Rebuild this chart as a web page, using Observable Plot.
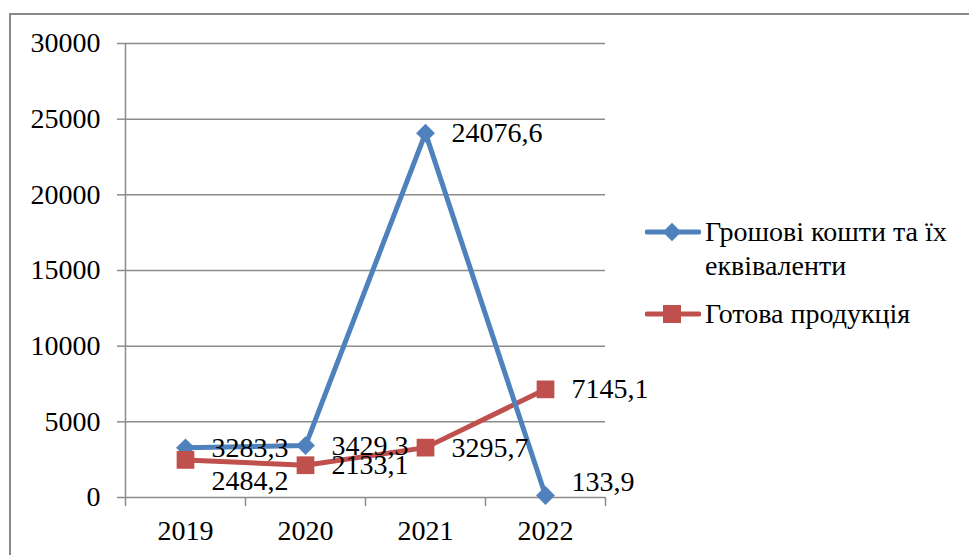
<!DOCTYPE html>
<html>
<head>
<meta charset="utf-8">
<script src="https://cdn.jsdelivr.net/npm/d3@7"></script>
<script src="https://cdn.jsdelivr.net/npm/@observablehq/plot@0.6"></script>
<style>
  body { margin: 0; background: #fff; }
  #chart {
    position: relative; width: 969px; height: 555px; overflow: hidden;
    font-family: "Liberation Serif", "Times New Roman", Tinos, "DejaVu Serif", serif; color: #000;
  }
  #frame {
    position: absolute; left: 9px; top: 13px; width: 2000px; height: 541px;
    border-top: 2px solid #8a8a8a; border-left: 2px solid #8a8a8a;
  }
  #plot { position: absolute; left: 0; top: 0; }
  #legend { position: absolute; left: 645px; top: 0; }
  .item { position: absolute; left: 0; display: flex; align-items: flex-start; }
  .item svg { flex: none; }
  .item span { font-size: 28px; line-height: 34px; width: 262px; display: block; margin-left: 4px; }
</style>
</head>
<body>
<div id="chart">
  <div id="frame"></div>
  <div id="plot"></div>
  <div id="legend"></div>
</div>
<script>
// Years on the category axis
const years = [2019, 2020, 2021, 2022];
// Series values
const cash = [3283.3, 3429.3, 24076.6, 133.9];
const goods = [2484.2, 2133.1, 3295.7, 7145.1];
const seriesNames = ["Грошові кошти та їх еквіваленти", "Готова продукція"];
const seriesColors = ["#4F81BD", "#C0504D"];
// Value axis ticks
const yTicks = [0, 5000, 10000, 15000, 20000, 25000, 30000];

const cashRows = years.map((year, i) => ({year, value: cash[i], series: seriesNames[0]}));
const goodsRows = years.map((year, i) => ({year, value: goods[i], series: seriesNames[1]}));
// Category boundaries: tick marks sit between the years
const edges = [...years.map(y => y - 0.5), years[years.length - 1] + 0.5];

const fmt = v => v.toFixed(1).replace(".", ",");
const gridColor = "#8c8c8c";
const font = "'Liberation Serif', 'Times New Roman', Tinos, 'DejaVu Serif', serif";

const labelMark = (rows, options = {}) => Plot.text(rows, {
  x: "year", y: "value", text: d => fmt(d.value),
  textAnchor: "start", dx: 26, fontSize: 28, fill: "#000", ...options
});

const chart = Plot.plot({
  width: 969, height: 555,
  marginLeft: 125, marginRight: 364, marginTop: 43, marginBottom: 58,
  style: {fontFamily: font, fontSize: "28px", color: "#000", background: "transparent", overflow: "visible"},
  x: {domain: [edges[0], edges[edges.length - 1]], axis: null, label: null},
  y: {domain: [0, 30000], axis: null, label: null},
  marks: [
    // horizontal gridlines
    Plot.ruleY(yTicks, {stroke: gridColor, strokeWidth: 1.5}),
    // value axis with outward ticks
    Plot.axisY({ticks: yTicks, tickSize: 8, tickPadding: 17, tickFormat: d3.format("d"),
      stroke: gridColor, strokeWidth: 1.5, fill: "#000", fontSize: 28, label: null}),
    Plot.ruleX([edges[0]], {stroke: gridColor, strokeWidth: 1.5}),
    // category axis: ticks between categories, labels at their centres
    Plot.axisX({ticks: edges, tickSize: 9, tickFormat: () => "", stroke: gridColor, strokeWidth: 1.5, label: null}),
    Plot.axisX({ticks: years, tickSize: 0, tickPadding: 23, tickFormat: d => String(d), fill: "#000", fontSize: 28, label: null}),
    // series lines
    Plot.line(goodsRows, {x: "year", y: "value", stroke: seriesColors[1], strokeWidth: 5}),
    Plot.line(cashRows, {x: "year", y: "value", stroke: seriesColors[0], strokeWidth: 5}),
    // markers
    Plot.dot(cashRows, {x: "year", y: "value", symbol: "diamond2", r: 8.5, fill: seriesColors[0], stroke: null}),
    Plot.dot(goodsRows, {x: "year", y: "value", symbol: "square", r: 10, fill: seriesColors[1], stroke: null}),
    // value labels
    labelMark(cashRows, {filter: d => d.year !== 2022}),
    labelMark(cashRows, {filter: d => d.year === 2022, dy: -13}),
    labelMark(goodsRows, {filter: d => d.year !== 2019}),
    labelMark(goodsRows, {filter: d => d.year === 2019, dy: 21})
  ]
});
document.getElementById("plot").appendChild(chart);

// Legend to the right of the plot
const legend = document.getElementById("legend");
const itemTops = [215, 297];
seriesNames.forEach((name, i) => {
  const item = document.createElement("div");
  item.className = "item";
  item.style.top = itemTops[i] + "px";
  const marker = i === 0
    ? `<rect x="20.5" y="10.5" width="13" height="13" transform="rotate(45 27 17)" fill="${seriesColors[i]}"/>`
    : `<rect x="18" y="8" width="18" height="18" fill="${seriesColors[i]}"/>`;
  item.innerHTML = `<svg width="56" height="34" viewBox="0 0 56 34">
      <line x1="2" x2="54" y1="17" y2="17" stroke="${seriesColors[i]}" stroke-width="5" stroke-linecap="round"/>
      ${marker}
    </svg><span>${name}</span>`;
  legend.appendChild(item);
});
</script>
</body>
</html>
